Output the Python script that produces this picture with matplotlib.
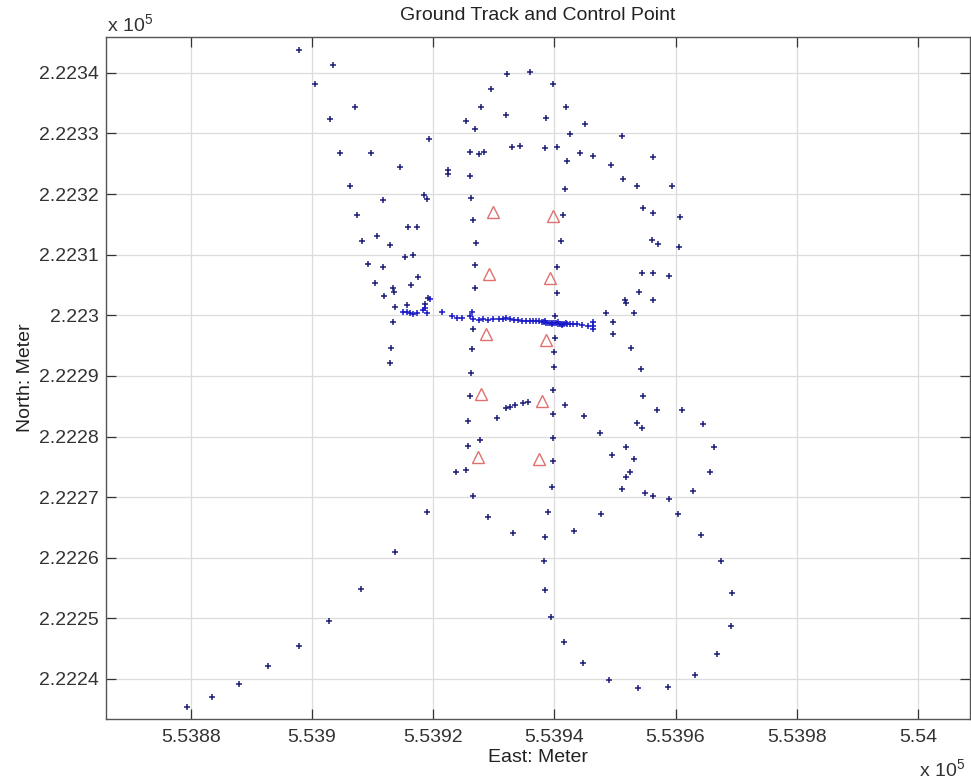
import matplotlib
matplotlib.use("Agg")
import matplotlib.pyplot as plt
from matplotlib.ticker import FuncFormatter, MultipleLocator

plt.rcParams['font.family'] = ['Liberation Sans', 'DejaVu Sans']
plt.rcParams['mathtext.default'] = 'regular'

# ground track samples (East, North in metres)
track_east = [
    553897.9, 553900.5, 553903.4, 553907.1, 553902.9, 553919.3, 553904.7, 553909.7,
    553914.5, 553906.3, 553911.7, 553918.5, 553919.0, 553907.4, 553915.9, 553917.3,
    553908.2, 553910.8, 553912.9, 553915.4, 553916.7, 553922.5, 553922.5, 553909.3,
    553911.8, 553910.4, 553913.3, 553913.5, 553916.3, 553917.5, 553911.9, 553919.2,
    553913.7, 553913.4, 553913.0, 553912.9, 553915.7, 553918.7,
    553925.4, 553926.9, 553927.9, 553929.5, 553932.2, 553936.0, 553932.0, 553939.7,
    553938.6, 553942.0, 553945.1, 553942.5, 553951.1, 553926.1, 553927.5, 553928.4,
    553933.0, 553934.3, 553938.5, 553940.5, 553942.1, 553944.2, 553946.4, 553949.4,
    553951.4, 553953.7, 553956.2, 553926.0, 553926.2, 553941.8, 553926.6, 553941.5,
    553927.0, 553941.1, 553954.7, 553956.3, 553956.1, 553957.1, 553959.4, 553960.7,
    553960.6, 553926.9, 553926.9, 553940.4, 553940.4, 553948.6, 553949.7, 553951.7,
    553951.9, 553953.2, 553953.9, 553954.4, 553956.2, 553959.0, 553956.2, 553949.7,
    553952.7, 553954.3,
    553926.5, 553926.4, 553926.2, 553926.0, 553925.7, 553925.7, 553923.8, 553925.4,
    553926.5, 553927.7, 553940.1, 553940.1, 553940.0, 553940.0, 553939.8, 553939.7,
    553939.7, 553939.8, 553939.6, 553954.7, 553956.9, 553941.8, 553944.9, 553947.5,
    553953.6, 553954.4, 553949.5, 553951.8, 553953.2, 553952.5, 553951.8, 553951.1,
    553955.0, 553956.2, 553961.0, 553964.5, 553966.4, 553965.7, 553959.0, 553962.9,
    553930.5, 553932.1, 553932.7, 553933.5, 553934.8, 553935.7,
    553879.3, 553883.5, 553888.0, 553892.8, 553897.9, 553902.8, 553908.1, 553913.7,
    553918.9, 553929.1, 553933.2, 553939.0, 553938.5, 553938.3, 553938.5, 553939.4,
    553941.6, 553944.8, 553949.1, 553953.8, 553943.3, 553947.7, 553960.4, 553964.2,
    553967.5, 553969.3, 553969.1, 553966.9, 553963.2, 553958.8,
]
track_north = [
    222343.8, 222338.1, 222341.2, 222334.3, 222332.4, 222329.1, 222326.7, 222326.8,
    222324.5, 222321.4, 222319.0, 222319.8, 222319.2, 222316.5, 222314.6, 222314.6,
    222312.3, 222313.0, 222311.6, 222309.6, 222309.9, 222324.0, 222323.3, 222308.4,
    222307.9, 222305.3, 222304.5, 222303.8, 222305.0, 222306.3, 222303.1, 222302.8,
    222301.4, 222298.9, 222294.6, 222292.2, 222301.7, 222301.9,
    222332.1, 222330.8, 222334.3, 222337.3, 222339.8, 222340.2, 222333.0, 222338.1,
    222332.6, 222334.4, 222331.5, 222329.9, 222329.5, 222327.0, 222326.6, 222326.9,
    222327.8, 222328.0, 222327.6, 222327.8, 222325.5, 222326.7, 222326.2, 222324.8,
    222322.5, 222321.4, 222326.1, 222323.0, 222319.4, 222320.8, 222315.7, 222316.5,
    222312.0, 222312.3, 222317.7, 222316.8, 222312.4, 222311.8, 222321.4, 222316.2,
    222311.2, 222308.3, 222304.5, 222308.0, 222303.6, 222300.3, 222298.9, 222302.5,
    222302.0, 222300.3, 222303.9, 222306.9, 222307.0, 222306.4, 222302.5, 222296.9,
    222294.6, 222291.1,
    222297.7, 222294.4, 222290.5, 222286.6, 222282.6, 222278.4, 222274.2, 222274.4,
    222270.2, 222279.4, 222299.9, 222296.2, 222294.0, 222291.4, 222287.7, 222283.7,
    222279.8, 222276.0, 222271.6, 222286.6, 222284.4, 222285.2, 222283.4, 222280.5,
    222282.2, 222281.4, 222277.0, 222278.2, 222276.3, 222274.2, 222273.4, 222271.4,
    222270.7, 222270.2, 222284.4, 222282.1, 222278.2, 222274.2, 222269.7, 222271.0,
    222283.0, 222284.7, 222284.9, 222285.2, 222285.6, 222285.7,
    222235.4, 222237.1, 222239.2, 222242.2, 222245.5, 222249.6, 222254.9, 222261.0,
    222267.6, 222266.7, 222264.1, 222267.6, 222263.5, 222259.4, 222254.7, 222250.2,
    222246.1, 222242.6, 222239.9, 222238.5, 222264.4, 222267.2, 222267.2, 222263.7,
    222259.5, 222254.2, 222248.8, 222244.1, 222240.6, 222238.7,
]

# dense east-west pass through the middle
band_east = [
    553915.1, 553915.6, 553916.2, 553916.7, 553917.3, 553918.4, 553918.7, 553918.9,
    553919.5, 553921.4, 553923.1, 553923.9, 553924.7, 553926.1, 553926.4, 553926.6,
    553927.5, 553928.3, 553929.1, 553929.9, 553930.8, 553931.6, 553932.1,
    553932.7, 553933.3, 553934.0, 553934.7, 553935.3, 553936.0, 553936.5, 553937.0,
    553937.5, 553938.0, 553938.3, 553938.6, 553939.0, 553939.3, 553939.6, 553940.0,
    553940.3, 553940.6, 553940.9, 553941.3, 553941.6, 553942.1, 553942.6, 553943.1,
    553943.7, 553944.6, 553945.6, 553946.4, 553946.4, 553946.4,
    553938.5, 553939.6, 553940.6, 553941.3, 553941.9,
]
band_north = [
    222300.6, 222300.6, 222300.3, 222300.2, 222300.3, 222300.9, 222301.2, 222300.3,
    222302.7, 222300.6, 222299.8, 222299.6, 222299.5, 222299.8, 222300.6, 222299.4,
    222299.2, 222299.4, 222299.2, 222299.3, 222299.3, 222299.4, 222299.5,
    222299.3, 222299.2, 222299.2, 222299.1, 222299.1, 222299.1, 222299.1, 222299.0,
    222299.0, 222298.9, 222298.9, 222298.8, 222298.8, 222298.8, 222298.7, 222298.7,
    222298.7, 222298.6, 222298.6, 222298.6, 222298.6, 222298.6, 222298.6, 222298.5,
    222298.5, 222298.4, 222298.3, 222298.2, 222298.9, 222297.7,
    222299.1, 222298.5, 222298.9, 222298.4, 222298.8,
]

# control points
ctrl_east = [553929.8, 553939.8, 553929.2, 553939.3, 553928.7,
             553938.7, 553927.9, 553938.0, 553927.4, 553937.4]
ctrl_north = [222317.1, 222316.3, 222306.8, 222306.2, 222296.9,
              222296.0, 222287.0, 222285.9, 222276.7, 222276.3]

x_limits = (553866.0, 554008.6)
y_limits = (222233.4, 222345.9)

fig = plt.figure(figsize=(9.71, 7.82), dpi=100)
ax = fig.add_axes([106 / 971, 1 - 719 / 782, 864 / 971, 682 / 782])

ax.plot(track_east, track_north, '+', color='#1e1e78', ms=5, mew=1.1)
ax.plot(band_east, band_north, '+', color='#1a1ac8', ms=5, mew=1.1)
ax.plot(ctrl_east, ctrl_north, '^', color='#e07070', mfc='none', ms=8.5, mew=1.0)

ax.set_xlim(*x_limits)
ax.set_ylim(*y_limits)
ax.xaxis.set_major_locator(MultipleLocator(20))
ax.yaxis.set_major_locator(MultipleLocator(10))
fmt = FuncFormatter(lambda v, p: '%g' % round(v / 1e5, 6))
ax.xaxis.set_major_formatter(fmt)
ax.yaxis.set_major_formatter(fmt)

ax.grid(True, color='#dcdcdc', lw=0.9, ls='-')
ax.set_axisbelow(True)
ax.tick_params(direction='in', length=7, width=0.9, top=True, right=True,
               labelsize=14, colors='#333333')
ax.tick_params(axis='x', pad=7)
ax.tick_params(axis='y', pad=5)
for sp in ax.spines.values():
    sp.set_color('#555555')
    sp.set_linewidth(1.0)

ax.set_title('Ground Track and Control Point', fontsize=14, color='#222222', pad=12)
ax.set_xlabel('East: Meter', fontsize=14, color='#222222', labelpad=2)
ax.set_ylabel('North: Meter', fontsize=14, color='#222222', labelpad=4)

fig.text(107 / 971, 1 - 31 / 782, r'x 10$^{5}$', fontsize=14, color='#333333',
         ha='left', va='baseline')
fig.text(965 / 971, 1 - 776 / 782, r'x 10$^{5}$', fontsize=14, color='#333333',
         ha='right', va='baseline')

fig.savefig('out.png', dpi=100)
